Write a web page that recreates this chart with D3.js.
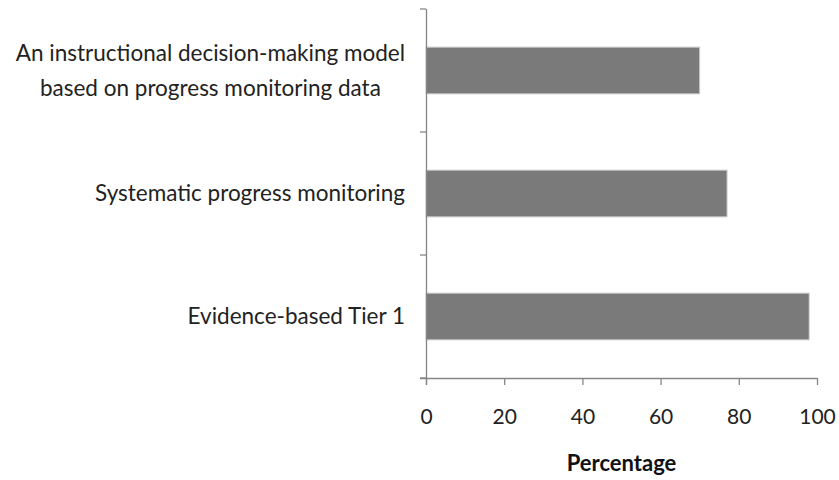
<!DOCTYPE html>
<html><head><meta charset="utf-8">
<script src="https://cdn.jsdelivr.net/npm/d3@7"></script>
<style>body{margin:0;background:#fff;} svg{display:block;font-family:Lato, "Open Sans", sans-serif;}</style>
</head><body>
<svg id="chart" width="839" height="480"></svg>
<script>
const categories = [
  ["An instructional decision-making model", "based on progress monitoring data"],
  ["Systematic progress monitoring"],
  ["Evidence-based Tier 1"]
];
const values = [70, 77, 98];
const xTicks = [0, 20, 40, 60, 80, 100];
const xTitle = "Percentage";

(function () {
const svg = d3.select("#chart");
const pLeft = 426, pRight = 817, pTop = 9, pBottom = 378;
const keys = categories.map((c, i) => i);

const x = d3.scaleLinear().domain([0, 100]).range([pLeft, pRight]);
const yBand = d3.scaleBand().domain(keys).range([pTop, pBottom]).padding(0);
const yBar = d3.scaleBand().domain(keys).range([pTop, pBottom]).paddingInner(0.62).paddingOuter(0.31);

const axisColor = "#868686";

// bars
svg.selectAll("rect.bar").data(values).join("rect")
  .attr("class", "bar")
  .attr("x", x(0))
  .attr("y", (d, i) => yBar(i))
  .attr("width", d => x(d) - x(0))
  .attr("height", yBar.bandwidth())
  .attr("fill", "#7a7a7a")
  .attr("stroke", "#cfcfcf")
  .attr("stroke-width", 1);

// x axis
const xAxis = d3.axisBottom(x).tickValues(xTicks).tickSize(7).tickPadding(24).tickFormat(d3.format("d"));
const gx = svg.append("g").attr("transform", `translate(0,${pBottom})`).call(xAxis);
gx.select(".domain").attr("d", `M${pLeft - 6},0.5H${pRight}`).attr("stroke", axisColor).attr("stroke-width", 1.3);
gx.selectAll(".tick line").attr("stroke", axisColor).attr("stroke-width", 1.3);
gx.selectAll(".tick text").attr("fill", "#222").style("font-size", "21px").style("font-family", "Lato, sans-serif");

// y axis line and ticks
const bounds = keys.map(k => yBand(k)).concat([pBottom]);
svg.append("line").attr("x1", pLeft + 0.5).attr("x2", pLeft + 0.5).attr("y1", pTop).attr("y2", pBottom + 7)
  .attr("stroke", axisColor).attr("stroke-width", 1.3);
svg.selectAll("line.ytick").data(bounds).join("line").attr("class", "ytick")
  .attr("x1", pLeft - 6).attr("x2", pLeft).attr("y1", d => d).attr("y2", d => d)
  .attr("stroke", axisColor).attr("stroke-width", 1.3);

// category labels
const lineH = 35;
const labelRight = 405;
categories.forEach((lines, i) => {
  const cy = yBand(i) + yBand.bandwidth() / 2;
  const g = svg.append("g");
  const texts = lines.map((t, j) => g.append("text")
    .attr("y", cy + (j - (lines.length - 1) / 2) * lineH)
    .attr("dy", "0.35em")
    .attr("text-anchor", "middle")
    .attr("fill", "#222")
    .style("font-size", "22.5px")
    .text(t));
  const maxW = d3.max(texts, t => t.node().getComputedTextLength());
  texts.forEach(t => t.attr("x", labelRight - maxW / 2));
});

// x title
svg.append("text").attr("x", (pLeft + pRight) / 2).attr("y", 471)
  .attr("text-anchor", "middle").attr("fill", "#111")
  .style("font-size", "22px").style("font-weight", "bold")
  .text(xTitle);
})();
</script>
</body></html>
